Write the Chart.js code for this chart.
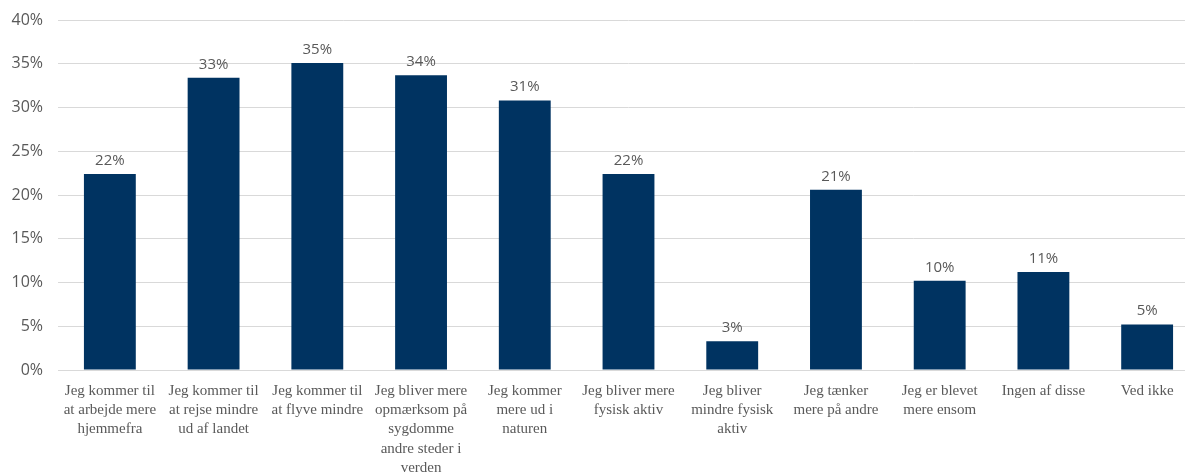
<!DOCTYPE html>
<html>
<head>
<meta charset="utf-8">
<script src="https://cdn.jsdelivr.net/npm/chart.js@4"></script>
<style>
html,body{margin:0;padding:0;background:#fff;overflow:hidden;}
#wrap{width:1199px;height:477px;position:relative;margin-top:-3px;}
</style>
</head>
<body>
<div id="wrap"><canvas id="c"></canvas></div>
<script>
const categories = [
  ["Jeg kommer til","at arbejde mere","hjemmefra"],
  ["Jeg kommer til","at rejse mindre","ud af landet"],
  ["Jeg kommer til","at flyve mindre"],
  ["Jeg bliver mere","opmærksom på","sygdomme","andre steder i","verden"],
  ["Jeg kommer","mere ud i","naturen"],
  ["Jeg bliver mere","fysisk aktiv"],
  ["Jeg bliver","mindre fysisk","aktiv"],
  ["Jeg tænker","mere på andre"],
  ["Jeg er blevet","mere ensom"],
  ["Ingen af disse"],
  ["Ved ikke"]
];
const values = [22.4, 33.4, 35.1, 33.7, 30.8, 22.4, 3.3, 20.6, 10.2, 11.2, 5.2];
const yTicks = [0, 5, 10, 15, 20, 25, 30, 35, 40];

const valueLabels = {
  id: 'valueLabels',
  afterDatasetsDraw(chart) {
    const ctx = chart.ctx;
    const meta = chart.getDatasetMeta(0);
    ctx.save();
    ctx.font = '15px "Open Sans"';
    ctx.fillStyle = '#595959';
    ctx.textAlign = 'center';
    ctx.textBaseline = 'bottom';
    meta.data.forEach((bar, i) => {
      ctx.fillText(Math.round(values[i]) + '%', bar.x, bar.y - 6);
    });
    ctx.restore();
  }
};

new Chart(document.getElementById('c'), {
  type: 'bar',
  data: {
    labels: categories,
    datasets: [{
      data: values,
      backgroundColor: '#003361',
      borderWidth: 0,
      barPercentage: 0.5,
      categoryPercentage: 1.0
    }]
  },
  options: {
    responsive: true,
    maintainAspectRatio: false,
    animation: false,
    devicePixelRatio: 1,
    layout: { padding: { top: 1, left: 0, right: 0, bottom: 0 } },
    plugins: { legend: { display: false }, tooltip: { enabled: false } },
    scales: {
      x: {
        afterFit(axis) { axis.height = 104; },
        grid: { display: false, drawTicks: false },
        border: { display: true, color: '#d9d9d9', width: 1 },
        ticks: {
          color: '#595959',
          font: { family: '"Liberation Serif"', size: 15, lineHeight: 1.29 },
          padding: 11,
          maxRotation: 0,
          autoSkip: false
        }
      },
      y: {
        min: 0, max: 40,
        afterBuildTicks(axis) { axis.ticks = yTicks.map(v => ({ value: v })); },
        afterFit(axis) { axis.width = 58; },
        grid: { color: '#d9d9d9', lineWidth: 1, drawTicks: false },
        border: { display: false },
        ticks: {
          color: '#595959',
          font: { family: '"Open Sans"', size: 16, lineHeight: 1.0 },
          padding: 15,
          callback: v => v + '%'
        }
      }
    }
  },
  plugins: [valueLabels]
});
</script>
</body>
</html>
